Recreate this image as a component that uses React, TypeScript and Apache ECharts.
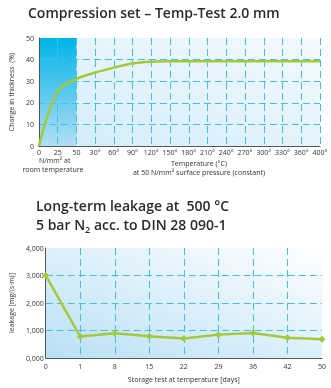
import React, { useEffect, useRef } from "react";
import * as echarts from "echarts";

const tempCategories = ["0", "25", "50", "30°", "60°", "90°", "120°", "150°", "180°", "210°", "240°", "270°", "300°", "330°", "360°", "400°"];
const thicknessChange = [0, 25.5, 31, 34, 36.3, 38.2, 39, 39.2, 39.2, 39.2, 39.2, 39.2, 39.2, 39.2, 39.2, 39.2];
const thicknessTicks = { min: 0, max: 50, interval: 10 };

const dayCategories = ["0", "1", "8", "15", "22", "29", "36", "42", "50"];
const leakageValues = [3000, 780, 900, 790, 705, 850, 910, 740, 680];
const leakageTicks = { min: 0, max: 4000, interval: 1000 };

const FONT = "'Open Sans', 'Noto Sans', sans-serif";
const GREEN = "#a3c93a";
const GRIDC = "#45bfea";
const AXISC = "#555";
const TEXTC = "#333";

export default function App() {
  const ref = useRef<HTMLDivElement>(null);
  useEffect(() => {
    if (!ref.current) return;
    const chart = echarts.init(ref.current, null, { renderer: "svg" });
    const dashed = { show: true, lineStyle: { color: GRIDC, type: [7, 4] as any, width: 1 }, showMinLine: false };
    const note = (text: string, x: number, y: number, align = "center") => ({
      type: "text",
      x,
      y,
      style: { text, fill: TEXTC, font: `7px ${FONT}`, align, verticalAlign: "top" } as any,
    });
    chart.setOption({
      animation: false,
      textStyle: { fontFamily: FONT },
      title: [
        {
          text: "Compression set – Temp-Test 2.0 mm",
          left: 28,
          top: 5,
          padding: 0,
          textStyle: { fontFamily: FONT, fontSize: 14, fontWeight: 600, color: "#2b2b2b" },
        },
        {
          text: "Long-term leakage at  500 °C\n5 bar N{sub|2} acc. to DIN 28 090-1",
          left: 36,
          top: 196,
          padding: 0,
          textStyle: {
            fontFamily: FONT,
            fontSize: 14,
            fontWeight: 600,
            color: "#2b2b2b",
            lineHeight: 19,
            rich: {
              sub: { fontSize: 9, fontWeight: 600, fontFamily: FONT, color: "#2b2b2b", verticalAlign: "bottom", padding: [6, 0, 0, 0] },
            },
          },
        },
      ],
      graphic: [
        note("N/mm² at", 39, 157, "left"),
        note("room temperature", 53, 166),
        note("Temperature (°C)", 199, 160),
        note("at 50 N/mm² surface pressure (constant)", 199, 169),
      ],
      grid: [
        {
          left: 30,
          top: 38,
          width: 290,
          height: 108,
          show: true,
          borderWidth: 0,
          backgroundColor: new echarts.graphic.LinearGradient(0, 1, 1, 0, [
            { offset: 0, color: "#d2ecf9" },
            { offset: 1, color: "#f4fafe" },
          ]),
        },
        {
          left: 36,
          top: 248,
          width: 286,
          height: 110,
          show: true,
          borderWidth: 0,
          backgroundColor: new echarts.graphic.LinearGradient(0, 1, 1, 0, [
            { offset: 0, color: "#b9e0f5" },
            { offset: 1, color: "#ffffff" },
          ]),
        },
      ],
      xAxis: [
        {
          gridIndex: 0,
          type: "category",
          data: tempCategories,
          boundaryGap: false,
          z: 1.5,
          axisLine: { lineStyle: { color: AXISC, width: 1 } },
          axisTick: { show: false },
          axisLabel: { fontSize: 7, color: TEXTC, margin: 3, interval: 0, fontFamily: FONT },
          splitLine: { ...dashed, showMaxLine: true },
        },
        {
          gridIndex: 1,
          type: "category",
          data: dayCategories,
          boundaryGap: false,
          z: 1.5,
          axisLine: { lineStyle: { color: AXISC, width: 1 } },
          axisTick: { show: false },
          axisLabel: { fontSize: 7, color: TEXTC, margin: 5, interval: 0, fontFamily: FONT },
          splitLine: { ...dashed, showMaxLine: false },
          name: "Storage test at temperature [days]",
          nameLocation: "middle",
          nameGap: 18,
          nameTextStyle: { fontSize: 7, color: TEXTC, fontFamily: FONT },
        },
      ],
      yAxis: [
        {
          gridIndex: 0,
          type: "value",
          ...thicknessTicks,
          z: 1.5,
          axisLine: { show: true, lineStyle: { color: AXISC, width: 1 } },
          axisTick: { show: false },
          axisLabel: { fontSize: 7, color: TEXTC, margin: 5, fontFamily: FONT },
          splitLine: { ...dashed, showMaxLine: false },
          name: "Change in thickness  (%)",
          nameLocation: "middle",
          nameGap: 21,
          nameTextStyle: { fontSize: 7, color: TEXTC, fontFamily: FONT },
        },
        {
          gridIndex: 1,
          type: "value",
          ...leakageTicks,
          z: 1.5,
          axisLine: { show: true, lineStyle: { color: AXISC, width: 1 } },
          axisTick: { show: false },
          axisLabel: {
            fontSize: 7,
            color: TEXTC,
            margin: 2,
            fontFamily: FONT,
            formatter: (v: number) => {
              const t = Math.floor(v / 1000);
              return `${t},000`;
            },
          },
          splitLine: { ...dashed, showMaxLine: false },
          name: "leakage [mg/(s·m)]",
          nameLocation: "middle",
          nameGap: 26,
          nameTextStyle: { fontSize: 7, color: TEXTC, fontFamily: FONT },
        },
      ],
      series: [
        {
          type: "line",
          xAxisIndex: 0,
          yAxisIndex: 0,
          z: 1,
          data: tempCategories.map(() => null),
          silent: true,
          markArea: {
            silent: true,
            itemStyle: {
              color: new echarts.graphic.LinearGradient(0, 0, 0, 1, [
                { offset: 0, color: "#00b4e8" },
                { offset: 1, color: "#b2def4" },
              ]),
            },
            data: [[{ xAxis: "0" }, { xAxis: "50" }]],
          },
        },
        {
          type: "line",
          xAxisIndex: 0,
          yAxisIndex: 0,
          z: 2,
          data: thicknessChange,
          smooth: 0.35,
          showSymbol: false,
          lineStyle: { color: GREEN, width: 2.5 },
        },
        {
          type: "line",
          xAxisIndex: 1,
          yAxisIndex: 1,
          z: 2,
          data: leakageValues,
          symbol: "diamond",
          symbolSize: 7,
          itemStyle: { color: GREEN },
          lineStyle: { color: GREEN, width: 2.5 },
        },
      ],
    });
    return () => chart.dispose();
  }, []);
  return <div ref={ref} style={{ position: "fixed", left: 0, top: 0, width: 331, height: 388 }} />;
}
